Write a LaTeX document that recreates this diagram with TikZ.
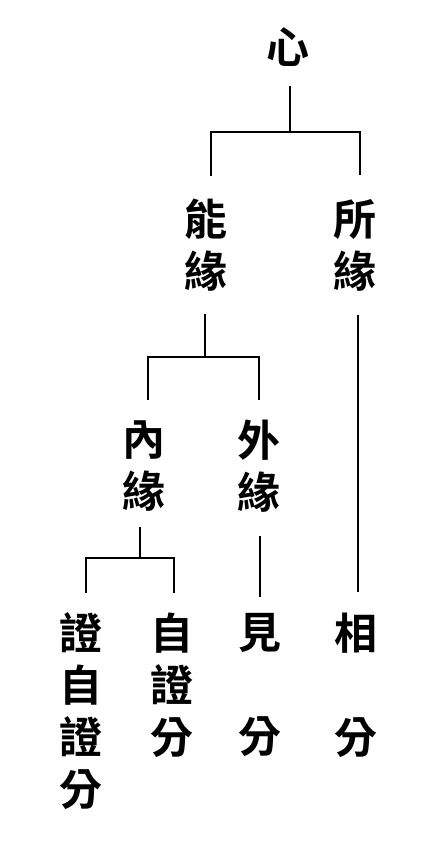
\documentclass[tikz,border=0pt]{standalone}
\usepackage{fontspec}
\newfontfamily\cjk{Noto Sans CJK TC}[BoldFont={Noto Sans CJK TC Bold}]
\begin{document}
\begin{tikzpicture}[x=1pt,y=-1pt,
  lab/.style={inner sep=0pt, align=center, font=\cjk\bfseries\fontsize{43}{52}\selectfont},
  conn/.style={line width=1.6pt}]
\useasboundingbox[fill=white] (0,0) rectangle (429,852);
% labels
\node[lab] (xin) at (288,47) {心};
\node[lab] (nengyuan) at (206,245) {能\\緣};
\node[lab] (suoyuan) at (355,245) {所\\緣};
\node[lab] (neiyuan) at (144,466) {內\\緣};
\node[lab] (waiyuan) at (259,466) {外\\緣};
\node[lab] (zzzf) at (81,711) {證\\自\\證\\分};
\node[lab] (zzf) at (172,685) {自\\證\\分};
\node[lab] (jianfen) at (260,685) {見\\ \\分};
\node[lab] (xiangfen) at (356,685) {相\\ \\分};
% connector points
\coordinate (xinbot) at (290,86);
\coordinate (j1) at (290,132);
\coordinate (nengtop) at (211,176);
\coordinate (suotop) at (360,175);
\coordinate (nengbot) at (205,314);
\coordinate (j2) at (205,357);
\coordinate (neitop) at (148,400);
\coordinate (waitop) at (259,400);
\coordinate (neibot) at (140,527);
\coordinate (j3) at (140,558);
\coordinate (zzzftop) at (86,593);
\coordinate (zzftop) at (174,593);
\coordinate (waibot) at (260,536);
\coordinate (jiantop) at (260,597);
\coordinate (suobot) at (358,315);
\coordinate (xiangtop) at (358,592);
% connectors
\draw[conn] (xinbot) -- (j1);
\draw[conn] (nengtop) |- (j1) -| (suotop);
\draw[conn] (nengbot) -- (j2);
\draw[conn] (neitop) |- (j2) -| (waitop);
\draw[conn] (neibot) -- (j3);
\draw[conn] (zzzftop) |- (j3) -| (zzftop);
\draw[conn] (waibot) -- (jiantop);
\draw[conn] (suobot) -- (xiangtop);
\end{tikzpicture}
\end{document}
